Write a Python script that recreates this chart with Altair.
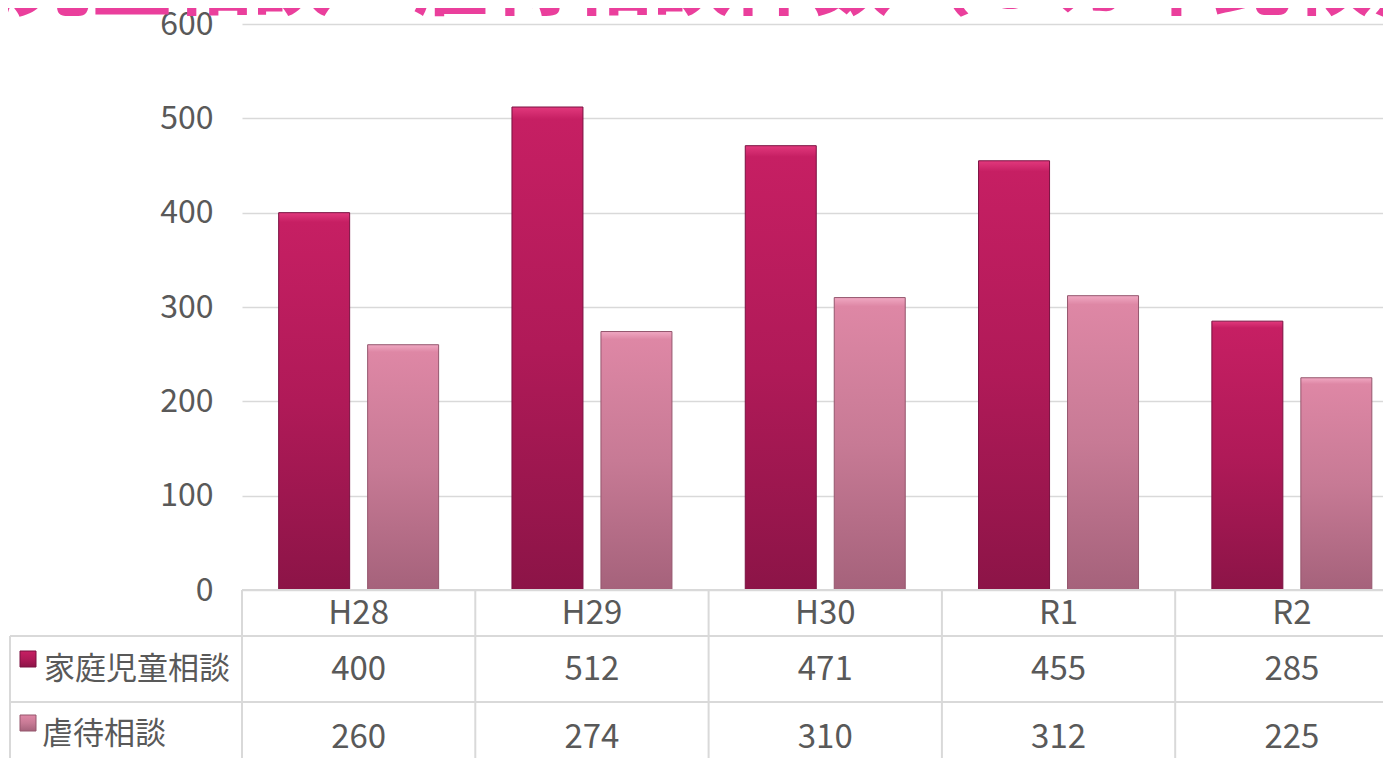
import altair as alt
import pandas as pd

# ---- data ----
categories = ["H28", "H29", "H30", "R1", "R2"]
series_names = ["家庭児童相談", "虐待相談"]
family_values = [400, 512, 471, 455, 285]
abuse_values = [260, 274, 310, 312, 225]
y_ticks = [0, 100, 200, 300, 400, 500, 600]
title_text = "家庭児童相談・虐待相談件数（５カ年比較）"

rows = []
for c, f, a in zip(categories, family_values, abuse_values):
    rows.append({"cat": c, "series": series_names[0], "value": f})
    rows.append({"cat": c, "series": series_names[1], "value": a})
df = pd.DataFrame(rows)

# ---- layout ----
W = 1141          # plot width (visible)
H = 566           # plot height
BAND_RANGE = 1166.5
FONT = "Noto Sans CJK JP"
TXT = "#595959"
GRID = "#d9d9d9"

x_scale = alt.Scale(domain=categories, range=[0, BAND_RANGE], paddingInner=0, paddingOuter=0)
x_enc = alt.X("cat:N", scale=x_scale, axis=None)
xoff_enc = alt.XOffset("series:N", scale=alt.Scale(domain=series_names,
                                                   paddingInner=0.2022, paddingOuter=0.412))
y_enc = alt.Y("value:Q", scale=alt.Scale(domain=[0, 600], nice=False),
              axis=alt.Axis(values=y_ticks, title=None, domain=False, ticks=False,
                            labelFont=FONT, labelFontSize=32, labelColor=TXT,
                            labelPadding=29, gridColor=GRID, gridWidth=1.6))

grad_family = alt.Gradient(gradient="linear", x1=0, x2=0, y1=0, y2=1, stops=[
    alt.GradientStop(color="#e2397d", offset=0),
    alt.GradientStop(color="#c61f63", offset=0.025),
    alt.GradientStop(color="#b01a58", offset=0.5),
    alt.GradientStop(color="#8c1447", offset=1)])
grad_abuse = alt.Gradient(gradient="linear", x1=0, x2=0, y1=0, y2=1, stops=[
    alt.GradientStop(color="#f0a8c2", offset=0),
    alt.GradientStop(color="#de87a5", offset=0.03),
    alt.GradientStop(color="#c77a95", offset=0.5),
    alt.GradientStop(color="#a5627b", offset=1)])

base = alt.Chart(df)

bars_family = base.transform_filter(alt.datum.series == series_names[0]).mark_bar(
    fill=grad_family, stroke="#7a1040", strokeWidth=1, clip=False
).encode(x=x_enc, xOffset=xoff_enc, y=y_enc)

bars_abuse = base.transform_filter(alt.datum.series == series_names[1]).mark_bar(
    fill=grad_abuse, stroke="#94566d", strokeWidth=1, clip=False
).encode(x=x_enc, xOffset=xoff_enc, y=y_enc)

# ---- title (cut off at top) ----
title = alt.Chart(alt.Data(values=[{"t": title_text}])).mark_text(
    font=FONT, fontSize=80, fontWeight="bold", color="#ea3f9c",
    align="left", baseline="alphabetic"
).encode(x=alt.value(-390), y=alt.value(-16), text="t:N")

# ---- data table ----
one = alt.Data(values=[{"a": 1}])
line_style = dict(color=GRID, strokeWidth=2)

h_top = alt.Chart(one).mark_rule(**line_style).encode(
    x=alt.value(0), x2=alt.value(W), y=alt.value(H))
h_row1 = alt.Chart(one).mark_rule(**line_style).encode(
    x=alt.value(-232), x2=alt.value(W), y=alt.value(612))
h_row2 = alt.Chart(one).mark_rule(**line_style).encode(
    x=alt.value(-232), x2=alt.value(W), y=alt.value(678))
v_left = alt.Chart(one).mark_rule(**line_style).encode(
    x=alt.value(-232), y=alt.value(612), y2=alt.value(740))

cat_df = pd.DataFrame({"cat": categories})
v_cols = alt.Chart(cat_df).mark_rule(**line_style).encode(
    x=alt.X("cat:N", bandPosition=0, scale=x_scale, axis=None),
    y=alt.value(H), y2=alt.value(740))

header = alt.Chart(cat_df).mark_text(
    font=FONT, fontSize=33, color=TXT, baseline="middle"
).encode(x=x_enc, y=alt.value(590), text="cat:N")

row1 = base.transform_filter(alt.datum.series == series_names[0]).mark_text(
    font=FONT, fontSize=33, color=TXT, baseline="middle"
).encode(x=x_enc, y=alt.value(646), text="value:Q")
row2 = base.transform_filter(alt.datum.series == series_names[1]).mark_text(
    font=FONT, fontSize=33, color=TXT, baseline="middle"
).encode(x=x_enc, y=alt.value(714), text="value:Q")

lab1 = alt.Chart(alt.Data(values=[{"s": series_names[0]}])).mark_text(
    font=FONT, fontSize=31, color=TXT, align="left", baseline="middle"
).encode(x=alt.value(-198), y=alt.value(646), text="s:N")
lab2 = alt.Chart(alt.Data(values=[{"s": series_names[1]}])).mark_text(
    font=FONT, fontSize=31, color=TXT, align="left", baseline="middle"
).encode(x=alt.value(-200), y=alt.value(711), text="s:N")

key1 = alt.Chart(one).mark_rect(fill=grad_family, stroke="#7a1040", strokeWidth=1).encode(
    x=alt.value(-222), x2=alt.value(-206), y=alt.value(627), y2=alt.value(643))
key2 = alt.Chart(one).mark_rect(fill=grad_abuse, stroke="#94566d", strokeWidth=1).encode(
    x=alt.value(-222), x2=alt.value(-206), y=alt.value(691), y2=alt.value(707))

chart = alt.layer(
    bars_family, bars_abuse, h_top, h_row1, h_row2, v_left, v_cols,
    header, row1, row2, lab1, lab2, key1, key2, title
).properties(
    width=W, height=H,
    autosize=alt.AutoSizeParams(type="none"),
    padding={"left": 234, "top": 16, "right": 0, "bottom": 168},
    background="white"
).configure_view(stroke=None)

chart.save("out.html", embed_options={"renderer": "svg", "actions": False})
